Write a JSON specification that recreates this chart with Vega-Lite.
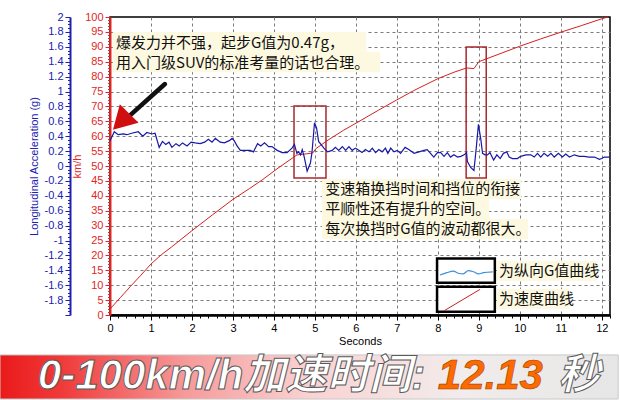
{
  "$schema": "https://vega.github.io/schema/vega-lite/v6.json",
  "width": 500,
  "height": 298,
  "autosize": {"type": "none"},
  "padding": {"left": 110, "top": 17, "right": 10, "bottom": 85},
  "background": "#ffffff",
  "config": {
    "view": {"stroke": "#000000", "strokeWidth": 1.5},
    "axis": {"labelFont": "Liberation Sans", "titleFont": "Liberation Sans"}
  },
  "datasets": {
    "gline": [
      {"t":0,"g":0.34},{"t":0.105,"g":0.46},{"t":0.2,"g":0.42},{"t":0.33,"g":0.43},{"t":0.41,"g":0.42},{"t":0.53,"g":0.44},{"t":0.69,"g":0.46},{"t":0.8,"g":0.4},{"t":0.9,"g":0.45},{"t":1.02,"g":0.43},{"t":1.1,"g":0.44},{"t":1.2,"g":0.25},{"t":1.28,"g":0.33},{"t":1.36,"g":0.29},{"t":1.44,"g":0.32},{"t":1.51,"g":0.25},{"t":1.61,"g":0.3},{"t":1.69,"g":0.27},{"t":1.77,"g":0.31},{"t":1.88,"g":0.27},{"t":1.98,"g":0.32},{"t":2.08,"g":0.31},{"t":2.2,"g":0.3},{"t":2.31,"g":0.32},{"t":2.4,"g":0.36},{"t":2.49,"g":0.32},{"t":2.57,"g":0.37},{"t":2.69,"g":0.32},{"t":2.79,"g":0.31},{"t":2.91,"g":0.34},{"t":2.98,"g":0.37},{"t":3.03,"g":0.34},{"t":3.1,"g":0.27},{"t":3.18,"g":0.21},{"t":3.3,"g":0.21},{"t":3.42,"g":0.21},{"t":3.5,"g":0.19},{"t":3.6,"g":0.3},{"t":3.68,"g":0.27},{"t":3.77,"g":0.31},{"t":3.87,"g":0.26},{"t":3.95,"g":0.26},{"t":4.08,"g":0.21},{"t":4.2,"g":0.18},{"t":4.32,"g":0.18},{"t":4.44,"g":0.24},{"t":4.5,"g":0.29},{"t":4.56,"g":0.17},{"t":4.6,"g":0.19},{"t":4.65,"g":0.15},{"t":4.69,"g":0.22},{"t":4.74,"g":0.12},{"t":4.81,"g":-0.07},{"t":4.89,"g":0.04},{"t":4.93,"g":0.19},{"t":4.99,"g":0.58},{"t":5.04,"g":0.51},{"t":5.09,"g":0.33},{"t":5.22,"g":0.24},{"t":5.31,"g":0.19},{"t":5.42,"g":0.21},{"t":5.5,"g":0.25},{"t":5.58,"g":0.21},{"t":5.67,"g":0.26},{"t":5.75,"g":0.21},{"t":5.83,"g":0.26},{"t":5.91,"g":0.21},{"t":5.99,"g":0.24},{"t":6.07,"g":0.21},{"t":6.15,"g":0.18},{"t":6.23,"g":0.22},{"t":6.32,"g":0.19},{"t":6.4,"g":0.24},{"t":6.48,"g":0.18},{"t":6.56,"g":0.22},{"t":6.64,"g":0.19},{"t":6.72,"g":0.24},{"t":6.78,"g":0.17},{"t":6.85,"g":0.24},{"t":6.93,"g":0.19},{"t":7.01,"g":0.21},{"t":7.09,"g":0.17},{"t":7.2,"g":0.25},{"t":7.29,"g":0.22},{"t":7.42,"g":0.17},{"t":7.54,"g":0.19},{"t":7.66,"g":0.21},{"t":7.74,"g":0.22},{"t":7.82,"g":0.17},{"t":7.9,"g":0.12},{"t":7.99,"g":0.18},{"t":8.07,"g":0.18},{"t":8.15,"g":0.13},{"t":8.23,"g":0.18},{"t":8.31,"g":0.12},{"t":8.39,"g":0.15},{"t":8.48,"g":0.12},{"t":8.56,"g":0.13},{"t":8.64,"g":0.15},{"t":8.7,"g":0.18},{"t":8.72,"g":0.06},{"t":8.8,"g":-0.02},{"t":8.88,"g":-0.06},{"t":8.94,"g":0.26},{"t":8.99,"g":0.56},{"t":9.05,"g":0.35},{"t":9.09,"g":0.17},{"t":9.15,"g":0.15},{"t":9.21,"g":0.15},{"t":9.27,"g":0.18},{"t":9.36,"g":0.08},{"t":9.44,"g":0.15},{"t":9.52,"g":0.1},{"t":9.6,"g":0.17},{"t":9.68,"g":0.19},{"t":9.74,"g":0.12},{"t":9.82,"g":0.1},{"t":9.94,"g":0.1},{"t":10.02,"g":0.13},{"t":10.15,"g":0.15},{"t":10.27,"g":0.15},{"t":10.35,"g":0.12},{"t":10.43,"g":0.17},{"t":10.51,"g":0.12},{"t":10.59,"g":0.17},{"t":10.68,"g":0.13},{"t":10.76,"g":0.17},{"t":10.84,"g":0.12},{"t":10.94,"g":0.17},{"t":11.04,"g":0.12},{"t":11.12,"g":0.16},{"t":11.21,"g":0.12},{"t":11.33,"g":0.15},{"t":11.45,"g":0.13},{"t":11.57,"g":0.13},{"t":11.69,"g":0.12},{"t":11.82,"g":0.12},{"t":11.94,"g":0.09},{"t":12.0,"g":0.1},{"t":12.06,"g":0.12},{"t":12.14,"g":0.12},{"t":12.2,"g":0.12}
    ],
    "speed": [
      {"t":0,"v":2},{"t":0.25,"v":5.8},{"t":0.5,"v":9.6},{"t":0.75,"v":13.3},{"t":1.0,"v":17.1},{"t":1.25,"v":20.2},{"t":1.5,"v":22.8},{"t":2.0,"v":28.3},{"t":2.5,"v":33.6},{"t":3.0,"v":38.8},{"t":3.4,"v":42.4},{"t":3.71,"v":45.3},{"t":4.1,"v":49.3},{"t":4.56,"v":53.7},{"t":4.8,"v":54.1},{"t":4.95,"v":54.4},{"t":5.02,"v":55.8},{"t":5.32,"v":58.7},{"t":5.7,"v":62},{"t":6.07,"v":64.9},{"t":6.56,"v":68.8},{"t":7.0,"v":72.2},{"t":7.41,"v":75.3},{"t":8.0,"v":79.3},{"t":8.4,"v":81.5},{"t":8.7,"v":82.9},{"t":8.88,"v":82.7},{"t":9.0,"v":85},{"t":9.54,"v":87.8},{"t":10.0,"v":90.2},{"t":10.5,"v":92.6},{"t":11.0,"v":94.9},{"t":11.5,"v":97.1},{"t":12.0,"v":99.4},{"t":12.15,"v":100}
    ],
    "shiftBoxes": [
      {"t":4.49,"t2":5.27,"v":46.0,"v2":70.1},
      {"t":8.69,"t2":9.18,"v":46.0,"v2":89.9}
    ],
    "highlights": [
      {"t":0.07,"t2":6.25,"v":95.0,"v2":88.3},
      {"t":0.07,"t2":6.59,"v":88.3,"v2":81.5},
      {"t":5.17,"t2":10.03,"v":45.6,"v2":38.9},
      {"t":5.17,"t2":9.25,"v":38.9,"v2":32.2},
      {"t":5.17,"t2":10.2,"v":32.2,"v2":25.5},
      {"t":9.44,"t2":11.88,"v":18.1,"v2":11.4},
      {"t":9.44,"t2":11.2,"v":8.7,"v2":2.0}
    ],
    "notes": [
      {"t":0.146,"v":91.4,"text":"爆发力并不强，起步G值为0.47g，"},
      {"t":0.146,"v":84.7,"text":"用入门级SUV的标准考量的话也合理。"},
      {"t":5.25,"v":42.3,"text":"变速箱换挡时间和挡位的衔接"},
      {"t":5.25,"v":35.6,"text":"平顺性还有提升的空间。"},
      {"t":5.25,"v":28.9,"text":"每次换挡时G值的波动都很大。"},
      {"t":9.49,"v":14.8,"text":"为纵向G值曲线"},
      {"t":9.49,"v":5.4,"text":"为速度曲线"}
    ],
    "legendBoxes": [
      {"t":7.98,"t2":9.39,"v":10.8,"v2":19.0},
      {"t":7.98,"t2":9.39,"v":1.1,"v2":9.5}
    ],
    "legendG": [
      {"t":8.05,"v":13.4},{"t":8.22,"v":14.2},{"t":8.38,"v":14.7},{"t":8.5,"v":14.0},{"t":8.62,"v":13.8},{"t":8.74,"v":14.9},{"t":8.87,"v":14.5},{"t":8.99,"v":13.8},{"t":9.11,"v":14.2},{"t":9.34,"v":14.5}
    ],
    "legendV": [
      {"t":8.15,"v":1.4},{"t":9.03,"v":8.6}
    ],
    "arrowShaft": [
      {"t":1.34,"v":77.5,"t2":0.44,"v2":66.4}
    ],
    "arrowHead": [
      {"t":0.27,"v":64.9}
    ],
    "banner": [
      {"t":-2.684,"t2":12.4,"v":-13.4,"v2":-28.2}
    ],
    "bannerText": [
      {"t":-1.76,"v":-20.5,"text":"0-100km/h加速时间:","part":"label"},
      {"t":8.0,"v":-20.5,"text":"12.13","part":"value"},
      {"t":10.93,"v":-20.5,"text":"秒","part":"unit"}
    ]
  },
  "encoding": {
    "x": {
      "field": "t",
      "type": "quantitative",
      "scale": {"domain": [0, 12.2], "nice": false, "zero": false},
      "axis": {
        "values": [0,0.2,0.4,0.6,0.8,1,1.2,1.4,1.6,1.8,2,2.2,2.4,2.6,2.8,3,3.2,3.4,3.6,3.8,4,4.2,4.4,4.6,4.8,5,5.2,5.4,5.6,5.8,6,6.2,6.4,6.6,6.8,7,7.2,7.4,7.6,7.8,8,8.2,8.4,8.6,8.8,9,9.2,9.4,9.6,9.8,10,10.2,10.4,10.6,10.8,11,11.2,11.4,11.6,11.8,12,12.2],
        "labelExpr": "abs(datum.value - round(datum.value)) < 0.01 ? '' + round(datum.value) : ''",
        "labelOverlap": false,
        "labelFlush": false,
        "tickSize": {"condition": {"test": "abs(datum.value - round(datum.value)) < 0.01", "value": 5}, "value": 3},
        "grid": true,
        "gridOpacity": {"condition": {"test": "abs(datum.value - round(datum.value)) < 0.01 && datum.value > 0.5", "value": 1}, "value": 0},
        "gridColor": "#7a7a7a",
        "gridDash": [3, 3],
        "gridWidth": 1,
        "domainColor": "#000000",
        "domainWidth": 2.5,
        "tickColor": "#000000",
        "labelColor": "#000000",
        "labelFontSize": 11,
        "labelPadding": 2,
        "title": "Seconds",
        "titleFontSize": 11,
        "titleFontWeight": "normal",
        "titleColor": "#000000",
        "titlePadding": 2
      }
    }
  },
  "layer": [
    {
      "encoding": {
        "y": {
          "field": "v",
          "type": "quantitative",
          "scale": {"domain": [0, 100], "nice": false, "zero": false},
          "axis": {
            "orient": "left",
            "values": [0,1,2,3,4,5,6,7,8,9,10,11,12,13,14,15,16,17,18,19,20,21,22,23,24,25,26,27,28,29,30,31,32,33,34,35,36,37,38,39,40,41,42,43,44,45,46,47,48,49,50,51,52,53,54,55,56,57,58,59,60,61,62,63,64,65,66,67,68,69,70,71,72,73,74,75,76,77,78,79,80,81,82,83,84,85,86,87,88,89,90,91,92,93,94,95,96,97,98,99,100],
            "labelExpr": "datum.value % 5 === 0 ? '' + datum.value : ''",
            "labelOverlap": false,
            "labelFlush": false,
            "tickSize": {"condition": {"test": "datum.value % 5 === 0", "value": 5}, "value": 2.5},
            "grid": true,
            "gridOpacity": {"condition": {"test": "datum.value % 5 === 0 && datum.value > 0 && datum.value < 100", "value": 1}, "value": 0},
            "gridColor": "#7a7a7a",
            "gridDash": [3, 3],
            "gridWidth": 1,
            "domainColor": "#e02828",
            "domainWidth": 2,
            "tickColor": "#e02828",
            "labelColor": "#e02828",
            "labelFontSize": 11,
            "labelPadding": 2,
            "title": "km/h",
            "titleColor": "#e02828",
            "titleFontSize": 11,
            "titleFontWeight": "normal",
            "titleX": -33,
            "titleY": 149,
            "titleAngle": -90,
            "titleAlign": "center",
            "titleBaseline": "middle"
          }
        }
      },
      "layer": [
        {
          "data": {"name": "highlights"},
          "mark": {"type": "rect", "fill": "#fdf9e0"},
          "encoding": {"x2": {"field": "t2"}, "y2": {"field": "v2"}}
        },
        {
          "data": {"name": "legendBoxes"},
          "mark": {"type": "rect", "fill": "#ffffff", "stroke": "#000000", "strokeWidth": 2.5},
          "encoding": {"x2": {"field": "t2"}, "y2": {"field": "v2"}}
        },
        {
          "data": {"name": "legendG"},
          "mark": {"type": "line", "color": "#3d8fd6", "strokeWidth": 1.2, "interpolate": "monotone"}
        },
        {
          "data": {"name": "legendV"},
          "mark": {"type": "line", "color": "#cc2020", "strokeWidth": 1}
        },
        {
          "data": {"name": "speed"},
          "mark": {"type": "line", "color": "#d42020", "strokeWidth": 1}
        },
        {
          "data": {"name": "shiftBoxes"},
          "mark": {"type": "rect", "fill": null, "fillOpacity": 0, "stroke": "#a8282c", "strokeWidth": 1.5},
          "encoding": {"x2": {"field": "t2"}, "y2": {"field": "v2"}}
        },
        {
          "data": {"name": "notes"},
          "mark": {"type": "text", "align": "left", "baseline": "middle", "font": "Noto Sans CJK SC", "fontSize": 15, "color": "#111111"},
          "encoding": {"text": {"field": "text"}}
        },
        {
          "data": {"name": "arrowShaft"},
          "mark": {"type": "rule", "color": "#111111", "strokeWidth": 4.5, "strokeCap": "round"},
          "encoding": {"x2": {"field": "t2"}, "y2": {"field": "v2"}}
        },
        {
          "data": {"name": "arrowHead"},
          "mark": {"type": "point", "shape": "triangle-up", "filled": true, "fill": "#d01010", "opacity": 1, "size": 700, "angle": 225, "strokeWidth": 0}
        },
        {
          "data": {"name": "banner"},
          "mark": {
            "type": "rect",
            "stroke": "#c8c8c8",
            "strokeWidth": 1,
            "fill": {
              "gradient": "linear",
              "x1": 0, "y1": 0, "x2": 1, "y2": 0,
              "stops": [
                {"offset": 0, "color": "#ea1a1a"},
                {"offset": 0.1, "color": "#f03a3a"},
                {"offset": 0.3, "color": "#f69a9a"},
                {"offset": 0.5, "color": "#fad2d2"},
                {"offset": 0.75, "color": "#f2ecec"},
                {"offset": 1, "color": "#e6e6e6"}
              ]
            }
          },
          "encoding": {"x2": {"field": "t2"}, "y2": {"field": "v2"}}
        },
        {
          "data": {"name": "bannerText"},
          "transform": [{"filter": "datum.part !== 'value'"}],
          "mark": {"type": "text", "align": "left", "baseline": "middle", "font": "Liberation Sans, Noto Sans CJK SC", "fontSize": 42, "fontStyle": "italic", "fontWeight": "bold", "color": "#ffffff", "stroke": "#5a5a5a", "strokeWidth": 1},
          "encoding": {"text": {"field": "text"}}
        },
        {
          "data": {"name": "bannerText"},
          "transform": [{"filter": "datum.part === 'value'"}],
          "mark": {"type": "text", "align": "left", "baseline": "middle", "font": "Liberation Sans, Noto Sans CJK SC", "fontSize": 42, "fontStyle": "italic", "fontWeight": "bold", "color": "#ff6a00", "stroke": "#9a4000", "strokeWidth": 0.6},
          "encoding": {"text": {"field": "text"}}
        }
      ]
    },
    {
      "data": {"name": "gline"},
      "mark": {"type": "line", "color": "#1818a8", "strokeWidth": 1.2},
      "encoding": {
        "y": {
          "field": "g",
          "type": "quantitative",
          "scale": {"domain": [-2, 2], "nice": false, "zero": false},
          "axis": {
            "orient": "left",
            "offset": 40,
            "values": [-2,-1.95,-1.9,-1.85,-1.8,-1.75,-1.7,-1.65,-1.6,-1.55,-1.5,-1.45,-1.4,-1.35,-1.3,-1.25,-1.2,-1.15,-1.1,-1.05,-1,-0.95,-0.9,-0.85,-0.8,-0.75,-0.7,-0.65,-0.6,-0.55,-0.5,-0.45,-0.4,-0.35,-0.3,-0.25,-0.2,-0.15,-0.1,-0.05,0,0.05,0.1,0.15,0.2,0.25,0.3,0.35,0.4,0.45,0.5,0.55,0.6,0.65,0.7,0.75,0.8,0.85,0.9,0.95,1,1.05,1.1,1.15,1.2,1.25,1.3,1.35,1.4,1.45,1.5,1.55,1.6,1.65,1.7,1.75,1.8,1.85,1.9,1.95,2],
            "labelExpr": "abs(datum.value * 5 - round(datum.value * 5)) < 0.001 && datum.value > -1.99 ? '' + datum.value : ''",
            "labelOverlap": false,
            "labelFlush": false,
            "tickSize": {"condition": {"test": "abs(datum.value * 5 - round(datum.value * 5)) < 0.001", "value": 5}, "value": 2.5},
            "grid": false,
            "domainColor": "#2020b0",
            "domainWidth": 2,
            "tickColor": "#2020b0",
            "labelColor": "#2020b0",
            "labelFontSize": 11,
            "labelPadding": 2,
            "title": "Longitudinal Acceleration (g)",
            "titleColor": "#2020b0",
            "titleFontSize": 11,
            "titleFontWeight": "normal",
            "titlePadding": 5
          }
        }
      }
    }
  ],
  "resolve": {"scale": {"y": "independent"}}
}
